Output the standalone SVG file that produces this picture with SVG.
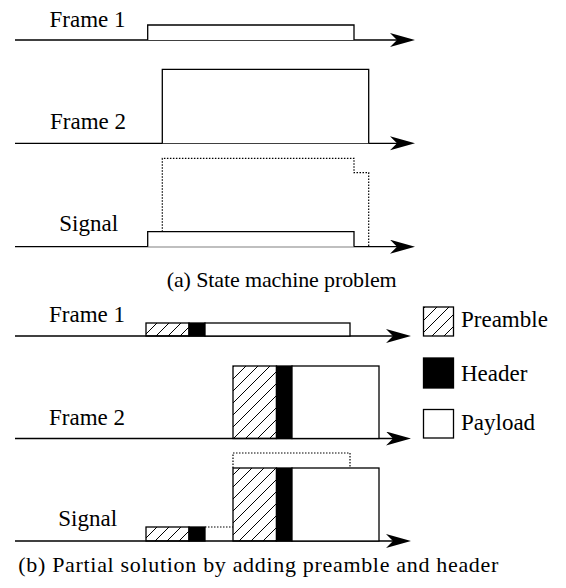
<svg xmlns="http://www.w3.org/2000/svg" width="566" height="588" viewBox="0 0 566 588">
<defs>
<marker id="arr" markerUnits="userSpaceOnUse" markerWidth="28" markerHeight="16" refX="15" refY="7" orient="auto">
<path d="M0,0 L25,7 L0,14 L7,7 Z" fill="#000"/>
</marker>
<pattern id="hatch" patternUnits="userSpaceOnUse" width="12" height="12">
<path d="M-3,3 L3,-3 M0,12 L12,0 M9,15 L15,9" stroke="#000" stroke-width="1"/>
</pattern>
<style>
text{font-family:'Liberation Serif','Times New Roman',Times,'DejaVu Serif',serif;font-size:23px;fill:#000}
.cap{font-size:22px}
.ax{stroke:#000;stroke-width:1.3;fill:none}
.box{stroke:#000;stroke-width:1.3;fill:#fff}
.pre{stroke:#000;stroke-width:1.3;fill:url(#hatch)}
.hdr{stroke:#000;stroke-width:1.3;fill:#000}
.dot{stroke:#000;stroke-width:1.2;fill:none;stroke-dasharray:1.5 1.5}
</style>
</defs>
<rect width="566" height="588" fill="#fff"/>

<g id="connectors">
<line class="ax" x1="15" y1="40" x2="405" y2="40" marker-end="url(#arr)"/>
<line class="ax" x1="15" y1="143.3" x2="405" y2="143.3" marker-end="url(#arr)"/>
<line class="ax" x1="15" y1="246.7" x2="405" y2="246.7" marker-end="url(#arr)"/>
<line class="ax" x1="15" y1="336" x2="401" y2="336" marker-end="url(#arr)"/>
<line class="ax" x1="15" y1="438.5" x2="401" y2="438.5" marker-end="url(#arr)"/>
<line class="ax" x1="15" y1="541" x2="401" y2="541" marker-end="url(#arr)"/>
</g>

<g id="a-frame1">
<text x="49.5" y="26.7">Frame 1</text>
<path class="box" d="M147.7,40 V25 H354 V40"/>
</g>
<g id="a-frame2">
<text x="50" y="129.3">Frame 2</text>
<path class="box" d="M162.3,143.3 V69.3 H368.7 V143.3"/>
</g>
<g id="a-signal">
<text x="59.3" y="230.7">Signal</text>
<path class="dot" d="M162.3,231.7 V158.3 H354 V172.7 H368.7 V246.7"/>
<path class="box" d="M147.7,246.7 V231.7 H354 V246.7"/>
</g>
<text id="caption-a" class="cap" x="166.7" y="287" textLength="230" lengthAdjust="spacing">(a) State machine problem</text>

<g id="b-frame1">
<text x="49" y="322">Frame 1</text>
<rect class="pre" x="146" y="323" width="43" height="13"/>
<rect class="hdr" x="189" y="323" width="16" height="13"/>
<rect class="box" x="205" y="323" width="145" height="13"/>
</g>
<g id="b-frame2">
<text x="49" y="425">Frame 2</text>
<rect class="pre" x="233" y="366" width="43.5" height="72.5"/>
<rect class="hdr" x="276.5" y="366" width="15.5" height="72.5"/>
<rect class="box" x="292" y="366" width="87" height="72.5"/>
</g>
<g id="b-signal">
<text x="58.3" y="526">Signal</text>
<path class="dot" d="M205,527 H233 M233,468 V453 H350 V468"/>
<rect class="pre" x="146" y="527" width="43" height="14"/>
<rect class="hdr" x="189" y="527" width="16" height="14"/>
<rect class="pre" x="233" y="468" width="43.5" height="73"/>
<rect class="hdr" x="276.5" y="468" width="15.5" height="73"/>
<rect class="box" x="292" y="468" width="87" height="73"/>
</g>

<g id="legend-preamble">
<rect class="pre" x="423.5" y="307" width="30" height="29"/>
<text x="461" y="327">Preamble</text>
</g>
<g id="legend-header">
<rect class="hdr" x="423.5" y="358" width="30" height="30"/>
<text x="461" y="381">Header</text>
</g>
<g id="legend-payload">
<rect class="box" x="423.5" y="409.5" width="30" height="28.5"/>
<text x="461" y="430">Payload</text>
</g>

<text id="caption-b" class="cap" x="18.3" y="571.7" textLength="480" lengthAdjust="spacing">(b) Partial solution by adding preamble and header</text>
</svg>
